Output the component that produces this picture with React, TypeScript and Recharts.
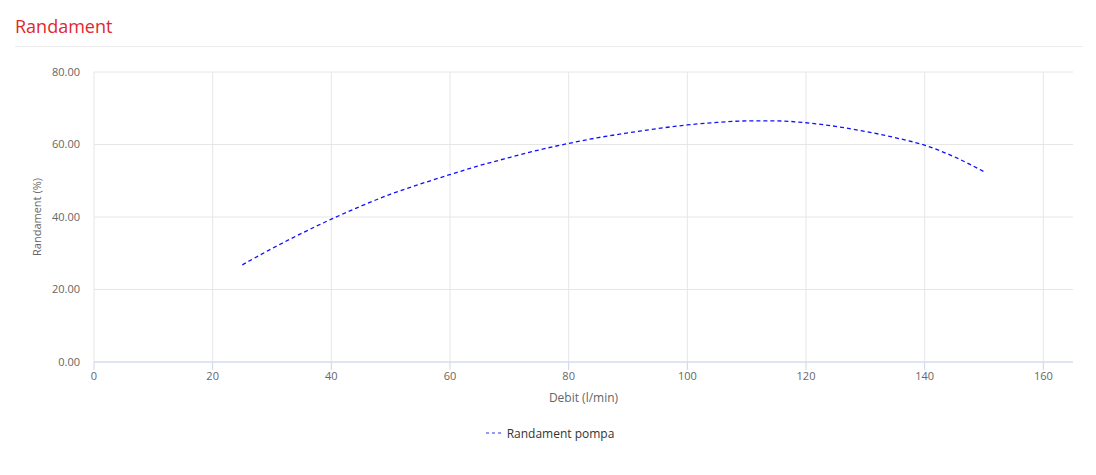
import React from 'react';
import { LineChart, Line, XAxis, YAxis, CartesianGrid, Legend } from 'recharts';

const debit = [25, 30, 35, 40, 45, 50, 55, 60, 65, 70, 75, 80, 85, 90, 95, 100, 105, 110, 115, 120, 125, 130, 135, 140, 145, 150];
const randament = [26.8, 31.3, 35.5, 39.4, 43.0, 46.3, 49.1, 51.7, 54.2, 56.4, 58.5, 60.3, 61.9, 63.2, 64.4, 65.4, 66.1, 66.5, 66.5, 66.0, 65.0, 63.6, 61.9, 59.8, 56.6, 52.5];
const xTicks = [0, 20, 40, 60, 80, 100, 120, 140, 160];
const yTicks = [0, 20, 40, 60, 80];
const seriesName = 'Randament pompa';

const data = debit.map((d, i) => ({ debit: d, randament: randament[i] }));

const FONT = '"Open Sans", sans-serif';

const LegendContent = () => (
  <div style={{ height: 20, width: 1096, display: 'flex', justifyContent: 'center', alignItems: 'center', fontFamily: FONT, paddingLeft: 2 }}>
    <svg width={15} height={10} style={{ marginRight: 6 }}>
      <line x1={0} y1={5} x2={15} y2={5} stroke="#7474ff" strokeWidth={1.5} strokeDasharray="3 3" />
    </svg>
    <span style={{ fontSize: 12, color: '#333' }}>{seriesName}</span>
  </div>
);

export default function App() {
  return (
    <div style={{ position: 'absolute', left: 0, top: 0, width: 1096, height: 475, background: '#fff', fontFamily: FONT }}>
      <div style={{ position: 'absolute', left: 15, top: 14, fontSize: 18, color: '#e0282e', fontFamily: FONT, lineHeight: '24px' }}>
        Randament
      </div>
      <div style={{ position: 'absolute', left: 15, top: 46, width: 1068, height: 1, background: '#ececec' }} />
      <div style={{ position: 'absolute', left: 0, top: 0 }}>
        <LineChart width={1096} height={475} data={data} margin={{ top: 72, right: 23, left: 0, bottom: 53 }}>
          <CartesianGrid stroke="#e6e6e6" strokeWidth={1} verticalValues={xTicks} horizontalValues={yTicks} />
          <XAxis
            dataKey="debit"
            type="number"
            domain={[0, 165]}
            ticks={xTicks}
            allowDataOverflow
            height={40}
            axisLine={{ stroke: '#ccd6eb' }}
            tickLine={{ stroke: '#ccd6eb' }}
            tickSize={8}
            tickMargin={2}
            tick={{ fill: '#666', fontSize: 11, fontFamily: FONT }}
            label={{ value: 'Debit (l/min)', position: 'insideBottom', offset: 0, fill: '#666', fontSize: 12, fontFamily: FONT }}
          />
          <YAxis
            type="number"
            domain={[0, 80]}
            ticks={yTicks}
            width={94}
            axisLine={false}
            tickLine={false}
            tickSize={6}
            tickMargin={8}
            tickFormatter={(v: number) => v.toFixed(2)}
            tick={{ fill: '#666', fontSize: 11, fontFamily: FONT }}
            label={{ value: 'Randament (%)', angle: -90, position: 'insideLeft', offset: 37, fill: '#666', fontSize: 11, fontFamily: FONT, style: { textAnchor: 'middle' } }}
          />
          <Legend verticalAlign="bottom" content={<LegendContent />} wrapperStyle={{ top: 423, bottom: 'auto', left: 0, width: 1096 }} />
          <Line
            type="monotone"
            dataKey="randament"
            name={seriesName}
            stroke="#1010ff"
            strokeWidth={1.3}
            strokeDasharray="4 3"
            dot={false}
            activeDot={false}
            isAnimationActive={false}
          />
        </LineChart>
      </div>
    </div>
  );
}
